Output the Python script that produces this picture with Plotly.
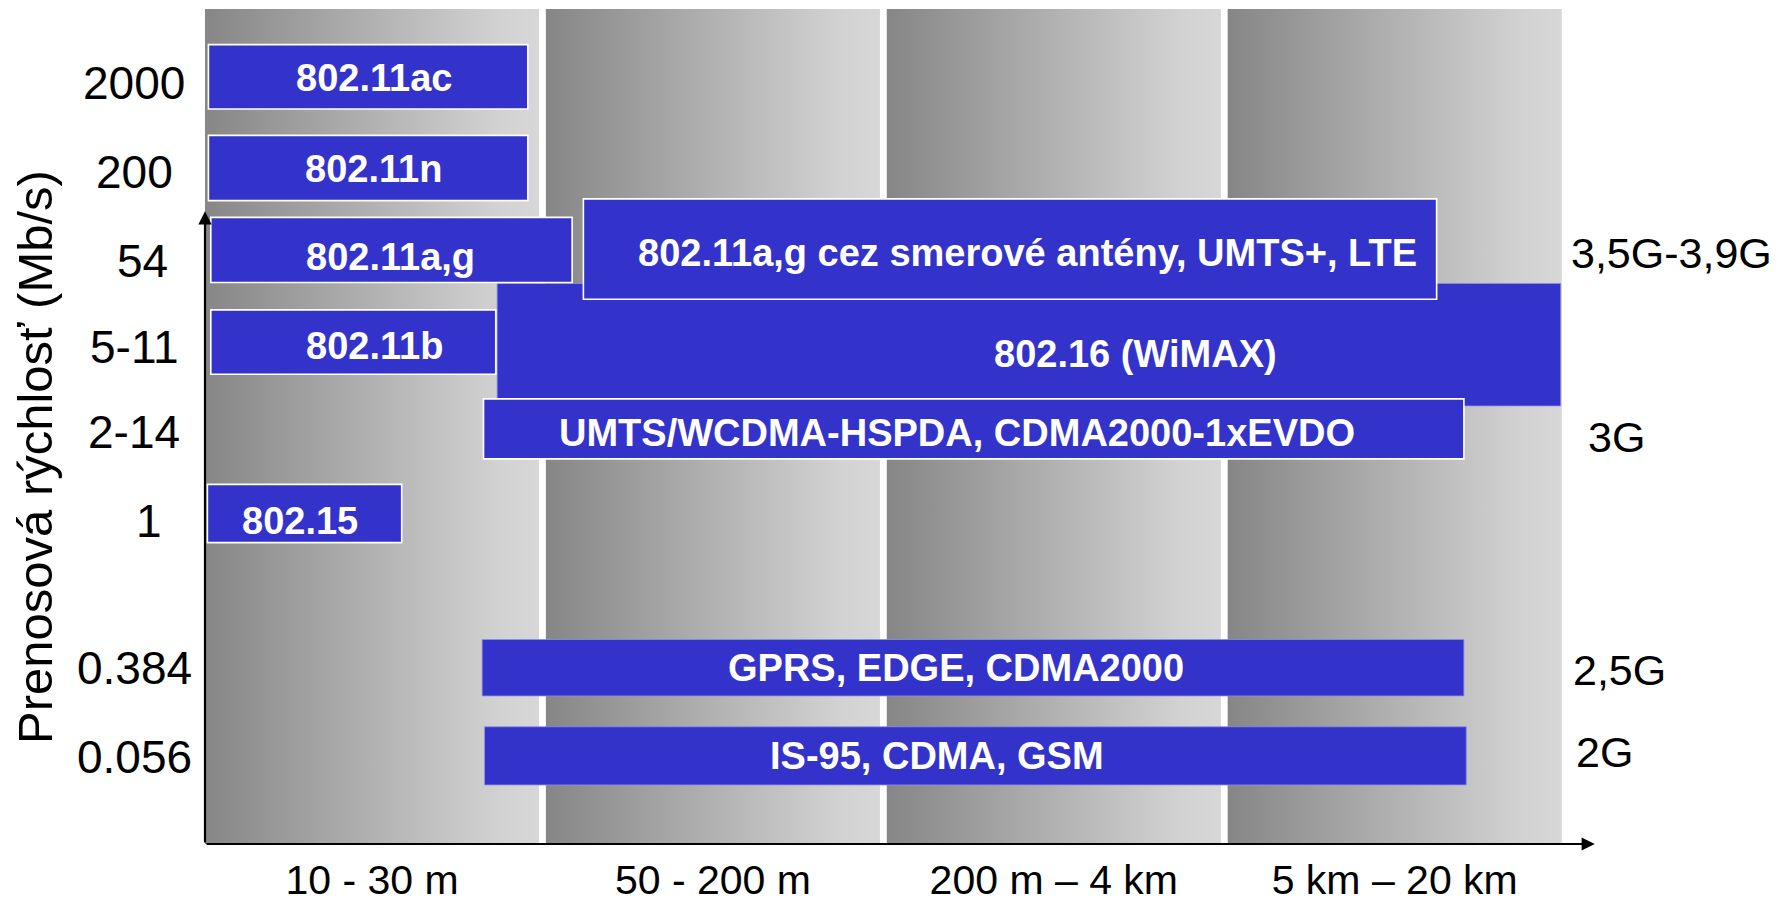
import plotly.graph_objects as go

# ---------------- data ----------------
distance_bands = ["10 - 30 m", "50 - 200 m", "200 m – 4 km", "5 km – 20 km"]

speed_tick_labels = ["0.056", "0.384", "1", "2-14", "5-11", "54", "200", "2000"]
speed_tick_pos = [0.99, 2.0, 3.66, 4.67, 5.64, 6.62, 7.63, 8.63]

tech_labels = ["802.16 (WiMAX)", "802.11ac", "802.11n", "802.11a,g",
               "802.11a,g cez smerové antény, UMTS+, LTE", "802.11b",
               "UMTS/WCDMA-HSPDA, CDMA2000-1xEVDO", "802.15",
               "GPRS, EDGE, CDMA2000", "IS-95, CDMA, GSM"]
range_start = [0.857, 0.010, 0.010, 0.017, 1.110, 0.017, 0.817, 0.007, 0.813, 0.820]
range_end = [3.977, 0.947, 0.947, 1.077, 3.613, 0.853, 3.693, 0.577, 3.693, 3.700]
speed_low = [4.97, 8.34, 7.30, 6.37, 6.18, 5.33, 4.37, 3.42, 1.68, 0.67]
speed_high = [6.36, 9.07, 8.04, 7.11, 7.32, 6.06, 5.05, 4.08, 2.32, 1.33]
label_x = [2.73, 0.497, 0.493, 0.543, 2.413, 0.497, 2.207, 0.28, 2.203, 2.147]
label_y = [5.56, 8.69, 7.66, 6.66, 6.70, 5.65, 4.66, 3.67, 2.0, 1.0]
bordered = [False, True, True, True, True, True, True, True, False, False]

generation_labels = ["3,5G-3,9G", "3G", "2,5G", "2G"]
generation_x = [4.0, 4.05, 4.007, 4.017]
generation_y = [6.71, 4.62, 1.97, 1.045]

y_title = "Prenosová rýchlosť (Mb/s)"

# ---------------- figure ----------------
X_MAX = 4.5
Y_TOP = 9.474
PANEL_W = 0.98
FONT = "Liberation Sans, Arial, sans-serif"
BAR_COLOR = "#3333CC"
TICK_NUDGE = {"54": 8, "1": 15}   # small horizontal offsets of some y labels (px)

fig = go.Figure()

# gradient background panels (one per distance band)
for i, band in enumerate(distance_bands):
    x0, x1 = i, i + PANEL_W
    fig.add_trace(go.Scatter(
        x=[x0, x1, x1, x0, x0], y=[0, 0, Y_TOP, Y_TOP, 0],
        mode="lines", fill="toself", line=dict(width=0),
        fillgradient=dict(type="horizontal",
                          colorscale=[[0, "#868686"], [0.88, "#D2D2D2"], [1, "#D7D7D7"]]),
        hoverinfo="skip", showlegend=False, zorder=0, name=band))

# technology bars
fig.add_trace(go.Bar(
    orientation="h",
    y=[(lo + hi) / 2 for lo, hi in zip(speed_low, speed_high)],
    x=[e - s for s, e in zip(range_start, range_end)],
    base=range_start,
    width=[hi - lo for lo, hi in zip(speed_low, speed_high)],
    marker=dict(color=BAR_COLOR,
                line=dict(color=["#8E8EE8" if not b else "white" for b in bordered],
                          width=[1.6 if b else 0.8 for b in bordered])),
    hoverinfo="skip", showlegend=False, zorder=1))

annotations = []
# bar labels
for t, x, y in zip(tech_labels, label_x, label_y):
    annotations.append(dict(x=x, y=y, xref="x", yref="y", text=t, showarrow=False,
                            xanchor="center", yanchor="middle",
                            font=dict(family=FONT, size=38, color="white", weight="bold")))
# generation labels on the right
for t, x, y in zip(generation_labels, generation_x, generation_y):
    annotations.append(dict(x=x, y=y, xref="x", yref="y", text=t, showarrow=False,
                            xanchor="left", yanchor="middle",
                            font=dict(family=FONT, size=43, color="black")))
# y tick labels (centred column)
for t, y in zip(speed_tick_labels, speed_tick_pos):
    annotations.append(dict(x=0, y=y, xref="paper", yref="y", text=t, showarrow=False,
                            xanchor="center", yanchor="middle",
                            xshift=-71 + TICK_NUDGE.get(t, 0),
                            font=dict(family=FONT, size=46, color="black")))
# y axis title
annotations.append(dict(x=0, y=0.4635, xref="paper", yref="paper", text=y_title,
                        showarrow=False, textangle=-90, xanchor="center", yanchor="middle",
                        xshift=-170, font=dict(family=FONT, size=49, color="black")))
# axis arrows
annotations.append(dict(x=4.077, y=0, ax=0, ay=0, xref="x", yref="y", axref="x", ayref="y",
                        text="", showarrow=True, arrowhead=2, arrowsize=1.2,
                        arrowwidth=2.2, arrowcolor="black", standoff=0))
annotations.append(dict(x=0, y=7.18, ax=0, ay=0, xref="x", yref="y", axref="x", ayref="y",
                        text="", showarrow=True, arrowhead=2, arrowsize=1.2,
                        arrowwidth=2.2, arrowcolor="black", standoff=0))

fig.update_layout(
    width=1775, height=894,
    margin=dict(l=197, r=44, t=1, b=58, autoexpand=False),
    paper_bgcolor="white", plot_bgcolor="white",
    barmode="overlay",
    showlegend=False,
    annotations=annotations,
    xaxis=dict(range=[0, X_MAX], showgrid=False, zeroline=False, showline=False,
               automargin=False,
               tickmode="array",
               tickvals=[i + PANEL_W / 2 for i in range(len(distance_bands))],
               ticktext=distance_bands, ticks="", ticklabelstandoff=8,
               tickfont=dict(family=FONT, size=41, color="black"), fixedrange=True),
    yaxis=dict(range=[0, Y_TOP], showgrid=False, zeroline=False, showline=False,
               automargin=False,
               showticklabels=False, ticks="", fixedrange=True),
)

fig.write_html("out.html")
